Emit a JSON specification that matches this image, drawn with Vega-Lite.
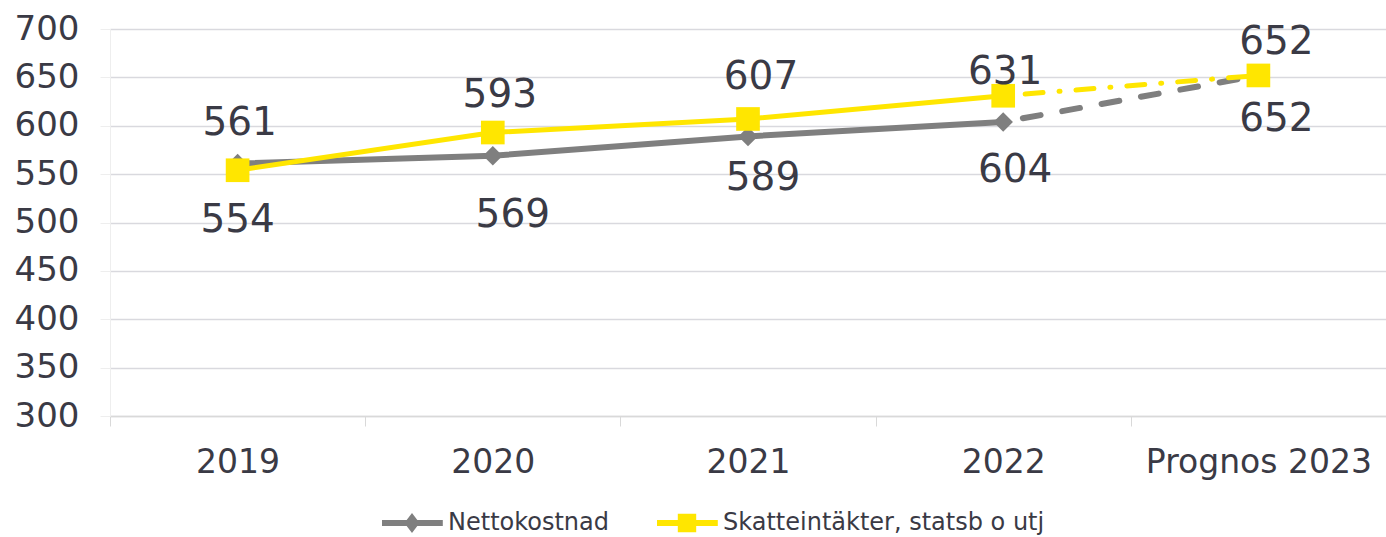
{
  "$schema": "https://vega.github.io/schema/vega-lite/v6.json",
  "width": 1276,
  "height": 387,
  "autosize": {"type": "none"},
  "padding": {"left": 110, "top": 29, "right": 0, "bottom": 121},
  "background": "white",
  "config": {
    "font": "DejaVu Sans",
    "view": {"stroke": null},
    "legend": {"padding": 0, "symbolOpacity": 1}
  },
  "data": {
    "values": [
      {"year": "2019", "series": "Nettokostnad", "value": 561},
      {"year": "2020", "series": "Nettokostnad", "value": 569},
      {"year": "2021", "series": "Nettokostnad", "value": 589},
      {"year": "2022", "series": "Nettokostnad", "value": 604},
      {"year": "Prognos 2023", "series": "Nettokostnad", "value": 652},
      {"year": "2019", "series": "Skatteintäkter, statsb o utj", "value": 554},
      {"year": "2020", "series": "Skatteintäkter, statsb o utj", "value": 593},
      {"year": "2021", "series": "Skatteintäkter, statsb o utj", "value": 607},
      {"year": "2022", "series": "Skatteintäkter, statsb o utj", "value": 631},
      {"year": "Prognos 2023", "series": "Skatteintäkter, statsb o utj", "value": 652}
    ]
  },
  "encoding": {
    "x": {
      "field": "year",
      "type": "ordinal",
      "sort": ["2019", "2020", "2021", "2022", "Prognos 2023"],
      "scale": {"type": "band", "paddingInner": 0, "paddingOuter": 0},
      "axis": {
        "title": null,
        "labelAngle": 0,
        "labelFontSize": 33,
        "labelLimit": 400,
        "labelColor": "#3a3a45",
        "labelPadding": 20,
        "domainColor": "#d9d9d9",
        "domainWidth": 1.5,
        "tickColor": "#d9d9d9",
        "tickSize": 10,
        "tickBand": "extent",
        "grid": false
      }
    },
    "y": {
      "field": "value",
      "type": "quantitative",
      "scale": {"domain": [300, 700], "nice": false, "zero": false},
      "axis": {
        "title": null,
        "values": [300, 350, 400, 450, 500, 550, 600, 650, 700],
        "labelFontSize": 34,
        "labelColor": "#3a3a45",
        "labelPadding": 21,
        "tickColor": "#eeeeee",
        "tickSize": 10,
        "domainColor": "#eeeeee",
        "gridColor": "#d9d9de",
        "gridWidth": 1.5
      }
    }
  },
  "layer": [
    {
      "transform": [{"filter": "datum.series === 'Nettokostnad' && datum.year !== 'Prognos 2023'"}],
      "mark": {"type": "line", "color": "#7f7f7f", "strokeWidth": 6}
    },
    {
      "transform": [{"filter": "datum.series === 'Nettokostnad' && (datum.year === '2022' || datum.year === 'Prognos 2023')"}],
      "mark": {"type": "line", "color": "#7f7f7f", "strokeWidth": 6, "strokeDash": [18, 22], "strokeCap": "round", "strokeDashOffset": -20}
    },
    {
      "transform": [{"filter": "datum.series === 'Nettokostnad'"}],
      "mark": {"type": "point", "filled": true, "opacity": 1, "size": 380, "shape": "diamond", "color": "#7f7f7f"}
    },
    {
      "transform": [{"filter": "datum.series !== 'Nettokostnad' && datum.year !== 'Prognos 2023'"}],
      "mark": {"type": "line", "color": "#FFE600", "strokeWidth": 5}
    },
    {
      "transform": [{"filter": "datum.series !== 'Nettokostnad' && (datum.year === '2022' || datum.year === 'Prognos 2023')"}],
      "mark": {"type": "line", "color": "#FFE600", "strokeWidth": 5, "strokeDash": [18, 16, 1, 16], "strokeCap": "round", "strokeDashOffset": -22}
    },
    {
      "transform": [{"filter": "datum.series !== 'Nettokostnad'"}],
      "mark": {"type": "point", "filled": true, "opacity": 1, "size": 560, "shape": "square", "color": "#FFE600"}
    },
    {
      "mark": {"type": "point", "filled": true, "opacity": 0, "size": 256},
      "encoding": {
        "color": {
          "field": "series",
          "type": "nominal",
          "scale": {"domain": ["Nettokostnad", "Skatteintäkter, statsb o utj"], "range": ["#7f7f7f", "#FFE600"]},
          "legend": {
            "title": null,
            "orient": "none",
            "legendX": 268,
            "legendY": 482,
            "direction": "horizontal",
            "symbolSize": 256,
            "symbolStrokeWidth": 0,
            "symbolOpacity": 1,
            "labelFontSize": 24,
            "labelLimit": 600,
            "labelColor": "#3a3a45",
            "labelOffset": 46,
            "columnPadding": 43
          }
        },
        "shape": {
          "field": "series",
          "type": "nominal",
          "scale": {
            "domain": ["Nettokostnad", "Skatteintäkter, statsb o utj"],
            "range": [
              "M-1,-0.375H6.6V0.375H-1Z M2.75,-1.25L3.7,0L2.75,1.25L1.8,0Z",
              "M-1,-0.375H6.6V0.375H-1Z M1.6,-1.15H3.9V1.15H1.6Z"
            ]
          }
        }
      }
    },
    {
      "transform": [{"filter": "datum.series === 'Nettokostnad' && datum.year === '2019'"}],
      "mark": {"type": "text", "fontSize": 39, "color": "#3a3a45", "dy": -40, "dx": 2},
      "encoding": {"text": {"field": "value", "type": "quantitative"}}
    },
    {
      "transform": [{"filter": "datum.series === 'Nettokostnad' && datum.year === '2020'"}],
      "mark": {"type": "text", "fontSize": 39, "color": "#3a3a45", "dy": 59, "dx": 20},
      "encoding": {"text": {"field": "value", "type": "quantitative"}}
    },
    {
      "transform": [{"filter": "datum.series === 'Nettokostnad' && datum.year === '2021'"}],
      "mark": {"type": "text", "fontSize": 39, "color": "#3a3a45", "dy": 42, "dx": 15},
      "encoding": {"text": {"field": "value", "type": "quantitative"}}
    },
    {
      "transform": [{"filter": "datum.series === 'Nettokostnad' && datum.year === '2022'"}],
      "mark": {"type": "text", "fontSize": 39, "color": "#3a3a45", "dy": 48, "dx": 12},
      "encoding": {"text": {"field": "value", "type": "quantitative"}}
    },
    {
      "transform": [{"filter": "datum.series === 'Nettokostnad' && datum.year === 'Prognos 2023'"}],
      "mark": {"type": "text", "fontSize": 39, "color": "#3a3a45", "dy": 44, "dx": 18},
      "encoding": {"text": {"field": "value", "type": "quantitative"}}
    },
    {
      "transform": [{"filter": "datum.series !== 'Nettokostnad' && datum.year === '2019'"}],
      "mark": {"type": "text", "fontSize": 39, "color": "#3a3a45", "dy": 50},
      "encoding": {"text": {"field": "value", "type": "quantitative"}}
    },
    {
      "transform": [{"filter": "datum.series !== 'Nettokostnad' && datum.year === '2020'"}],
      "mark": {"type": "text", "fontSize": 39, "color": "#3a3a45", "dy": -38, "dx": 7},
      "encoding": {"text": {"field": "value", "type": "quantitative"}}
    },
    {
      "transform": [{"filter": "datum.series !== 'Nettokostnad' && datum.year === '2021'"}],
      "mark": {"type": "text", "fontSize": 39, "color": "#3a3a45", "dy": -42, "dx": 13},
      "encoding": {"text": {"field": "value", "type": "quantitative"}}
    },
    {
      "transform": [{"filter": "datum.series !== 'Nettokostnad' && datum.year === '2022'"}],
      "mark": {"type": "text", "fontSize": 39, "color": "#3a3a45", "dy": -24, "dx": 2},
      "encoding": {"text": {"field": "value", "type": "quantitative"}}
    },
    {
      "transform": [{"filter": "datum.series !== 'Nettokostnad' && datum.year === 'Prognos 2023'"}],
      "mark": {"type": "text", "fontSize": 39, "color": "#3a3a45", "dy": -33, "dx": 18},
      "encoding": {"text": {"field": "value", "type": "quantitative"}}
    }
  ]
}
